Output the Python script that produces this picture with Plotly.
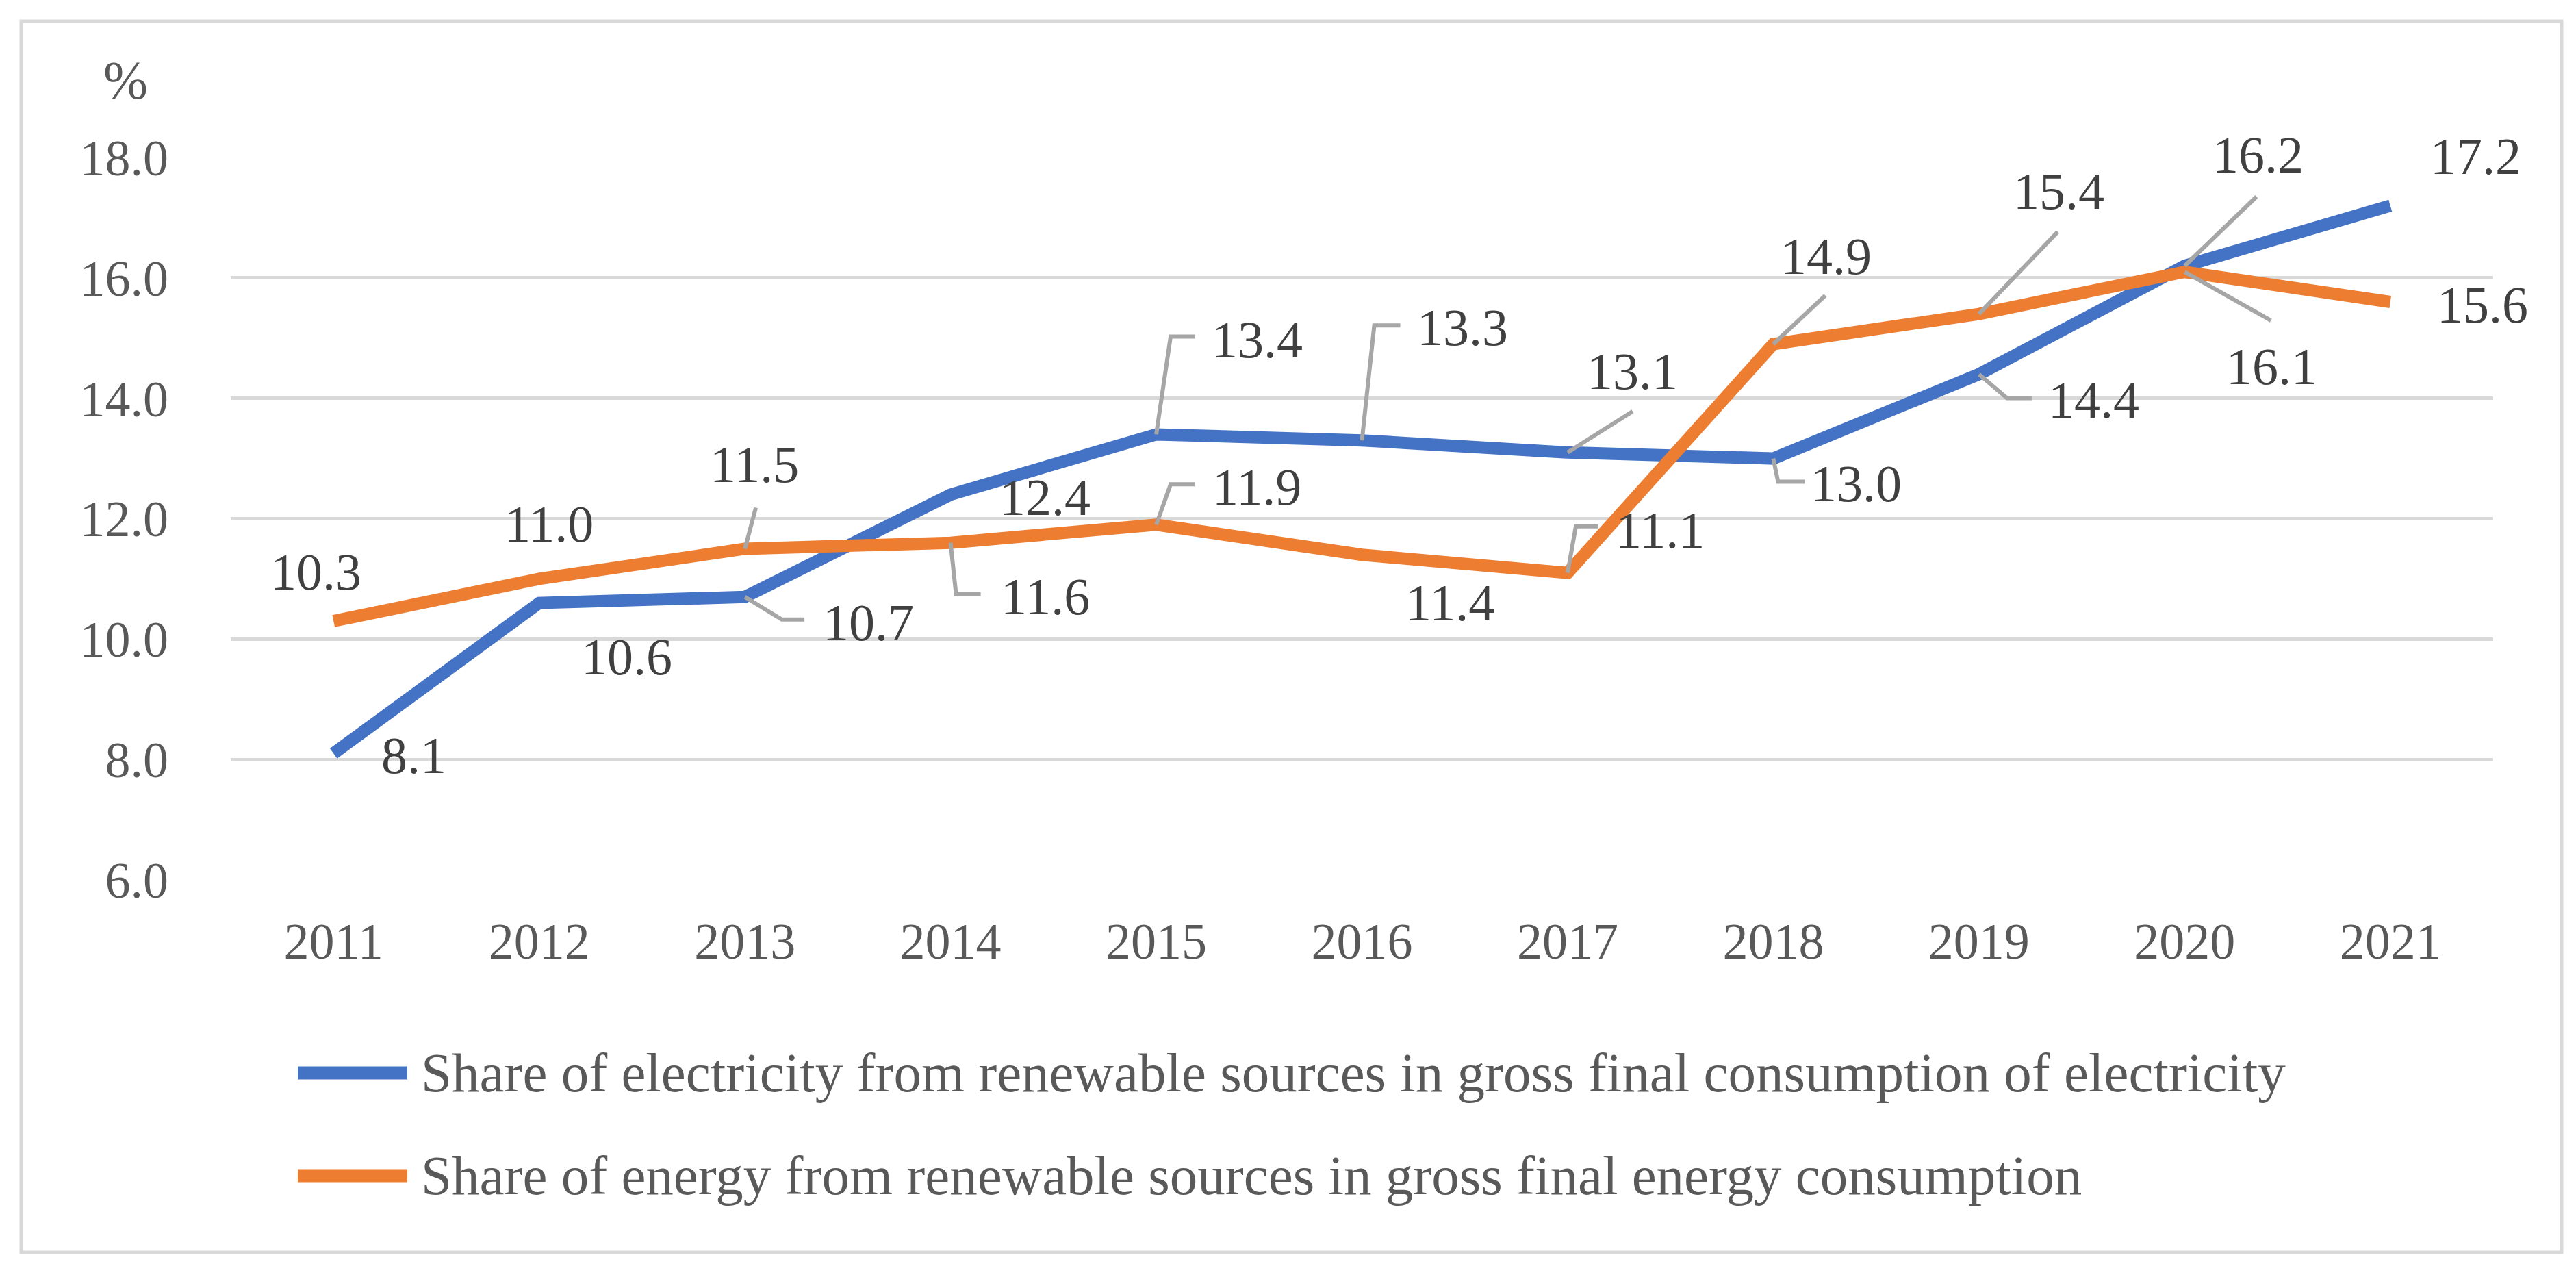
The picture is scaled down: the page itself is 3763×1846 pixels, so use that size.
import plotly.graph_objects as go

# data
years = ["2011", "2012", "2013", "2014", "2015", "2016", "2017", "2018", "2019", "2020", "2021"]
electricity_share = [8.1, 10.6, 10.7, 12.4, 13.4, 13.3, 13.1, 13.0, 14.4, 16.2, 17.2]
energy_share = [10.3, 11.0, 11.5, 11.6, 11.9, 11.4, 11.1, 14.9, 15.4, 16.1, 15.6]
series_names = [
    "Share of electricity from renewable sources in gross final consumption of electricity",
    "Share of energy from renewable sources in gross final energy consumption",
]
y_ticks = [6.0, 8.0, 10.0, 12.0, 14.0, 16.0, 18.0]

BLUE = "#4472C4"
ORANGE = "#ED7D31"
GRID = "#D9D9D9"
LEADER = "#A6A6A6"
FONT = "Liberation Serif"

W, H = 3763, 1846
L, R, T, B = 329, 129, 222, 569

# label placement, pixel offsets from the point (right, down), and leader paths
blue_labels = [
    ((117, 3), None),
    ((128, 78), None),
    ((180, 37), [(54, 33), (87, 33)]),
    ((138, 4), None),
    ((147, -138), [(21, -143), (57, -143)]),
    ((147, -165), [(18, -168), (56, -168)]),
    ((95, -119), [(95, -60)]),
    ((121, 36), [(7, 34), (46, 34)]),
    ((168, 37), [(41, 35), (77, 35)]),
    ((107, -162), [(105, -101)]),
    ((125, -72), None),
]
orange_labels = [
    ((-26, -72), None),
    ((14, -80), None),
    ((14, -123), [(16, -60)]),
    ((138, 78), [(8, 75), (44, 75)]),
    ((147, -55), [(21, -59), (57, -59)]),
    ((128, 70), None),
    ((135, -63), [(12, -68), (44, -68)]),
    ((77, -129), [(76, -71)]),
    ((117, -180), [(115, -120)]),
    ((127, 138), [(126, 71)]),
    ((135, 4), None),
]


def px(x):
    return (x - L) / (W - L - R)


def py(y):
    return 1 - (y - T) / (H - T - B)


fig = go.Figure()

for name, vals, color in [(series_names[0], electricity_share, BLUE),
                          (series_names[1], energy_share, ORANGE)]:
    fig.add_trace(go.Scatter(
        x=years, y=vals, mode="lines", name=name,
        line=dict(color=color, width=18),
        showlegend=False,
    ))

shapes = []
annotations = []

# data labels with leader lines (category index positions on the x axis)
for vals, placements in [(electricity_share, blue_labels), (energy_share, orange_labels)]:
    for i, (v, ((dx, dy), leader)) in enumerate(zip(vals, placements)):
        annotations.append(dict(
            x=i, y=v, xref="x", yref="y", text=f"{v:.1f}", showarrow=False,
            xshift=dx, yshift=-dy,
            font=dict(family=FONT, size=76, color="#404040"),
        ))
        if leader:
            path = "M 0 0 " + " ".join(f"L {a} {-b}" for a, b in leader)
            shapes.append(dict(
                type="path", xref="x", yref="y",
                xsizemode="pixel", ysizemode="pixel",
                xanchor=i, yanchor=v, path=path,
                line=dict(color=LEADER, width=6),
            ))

# custom legend
for i, (name, color) in enumerate(zip(series_names, [BLUE, ORANGE])):
    ly = 1559 + i * 150
    shapes.append(dict(
        type="line", xref="paper", yref="paper",
        x0=px(427), x1=px(587), y0=py(ly), y1=py(ly),
        line=dict(color=color, width=19),
    ))
    annotations.append(dict(
        x=px(605), y=py(ly), xref="paper", yref="paper", text=name,
        showarrow=False, xanchor="left", yanchor="middle",
        font=dict(family=FONT, size=81, color="#595959"),
    ))

# outer frame
shapes.append(dict(
    type="rect", xref="paper", yref="paper",
    x0=px(23), x1=px(3734), y0=py(23), y1=py(1821),
    line=dict(color=GRID, width=5), layer="below",
))

annotations.append(dict(
    x=px(175), y=py(108), xref="paper", yref="paper", text="%",
    showarrow=False, xanchor="center", yanchor="middle",
    font=dict(family=FONT, size=78, color="#595959"),
))

fig.update_layout(
    width=W, height=H,
    margin=dict(l=L, r=R, t=T, b=B),
    paper_bgcolor="white", plot_bgcolor="white",
    shapes=shapes, annotations=annotations,
    xaxis=dict(
        type="category", range=[-0.5, 10.5], showgrid=False, showline=False,
        ticks="", ticklabelstandoff=40,
        tickfont=dict(family=FONT, size=74, color="#595959"),
    ),
    yaxis=dict(
        range=[6, 18], tickvals=y_ticks, tickformat=".1f",
        showgrid=True, gridcolor=GRID, gridwidth=5, zeroline=False,
        showline=False, ticks="", ticklabelstandoff=90,
        tickfont=dict(family=FONT, size=74, color="#595959"),
    ),
)

fig.write_html("out.html")
